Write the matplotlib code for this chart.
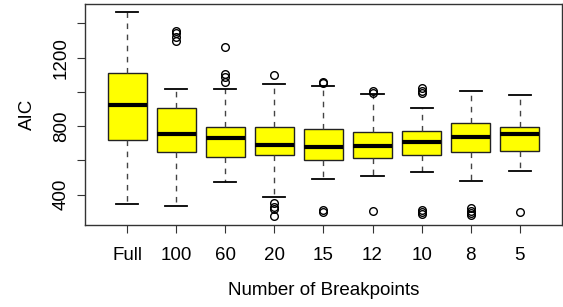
import matplotlib
matplotlib.use('Agg')
from matplotlib import pyplot as plt

plt.rcParams['font.family'] = ['Liberation Sans', 'DejaVu Sans']

# values
labels = ['Full', '100', '60', '20', '15', '12', '10', '8', '5']
whislo = [347, 336, 474, 388, 492, 511, 533, 482, 538]
q1 = [721, 648, 622, 630, 603, 616, 630, 651, 657]
med = [924, 756, 733, 690, 678, 686, 708, 737, 754]
q3 = [1109, 904, 797, 797, 782, 766, 772, 817, 797]
whishi = [1468, 1015, 1015, 1046, 1035, 990, 908, 1003, 982]
fliers = [
    [],
    [1357, 1342, 1321, 1295],
    [1264, 1105, 1085, 1060],
    [1097, 350, 330, 315, 276],
    [1058, 1050, 311, 300],
    [1005, 995, 303],
    [1021, 1008, 993, 311, 300, 290],
    [320, 306, 295, 282],
    [301],
]

stats = []
for i in range(len(labels)):
    stats.append(dict(label=labels[i], whislo=whislo[i], q1=q1[i], med=med[i],
                      q3=q3[i], whishi=whishi[i], fliers=fliers[i]))

fig = plt.figure(figsize=(5.63, 3.07), dpi=100)
ax = fig.add_axes([0.151, 0.267, 0.847, 0.72])

ax.bxp(stats, positions=range(1, 10), widths=0.8, patch_artist=True,
       boxprops=dict(facecolor='#ffff00', edgecolor='#222222', linewidth=1),
       medianprops=dict(color='black', linewidth=3, solid_capstyle='butt'),
       whiskerprops=dict(color='#444444', linestyle=(0, (4, 4)), linewidth=1),
       capprops=dict(color='black', linewidth=1.3),
       capwidths=0.45,
       flierprops=dict(marker='o', markerfacecolor='none', markeredgecolor='black',
                       markersize=5.5, markeredgewidth=1))

ax.set_xlim(0.14, 9.86)
ax.set_ylim(223, 1513)
ax.set_yticks([400, 600, 800, 1000, 1200, 1400])
ax.set_yticklabels(['400', '', '800', '', '1200', ''], rotation=90, va='center')
ax.tick_params(axis='both', labelsize=13.5, length=6, color='#333333', direction='out')
ax.tick_params(axis='x', pad=10)
ax.tick_params(axis='y', pad=5)
for s in ax.spines.values():
    s.set_color('#333333')
    s.set_linewidth(1)

ax.set_xlabel('Number of Breakpoints', fontsize=13.5, labelpad=13)
ax.set_ylabel('AIC', fontsize=13.5, labelpad=12)

fig.savefig('out.png', dpi=100)
